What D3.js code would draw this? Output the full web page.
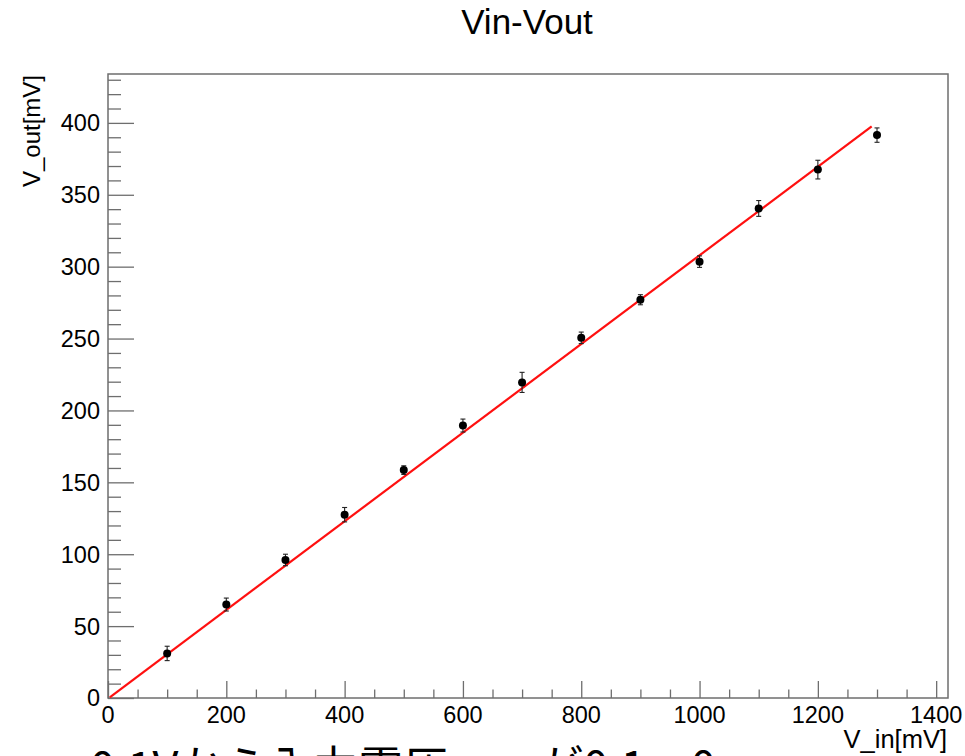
<!DOCTYPE html>
<html>
<head>
<meta charset="utf-8">
<script src="https://cdn.jsdelivr.net/npm/d3@7"></script>
<style>
  body { margin: 0; background: #fff; }
  svg { display: block; }
  text { font-family: "Liberation Sans", Arial, sans-serif; fill: #000; }
</style>
</head>
<body>
<div id="chart"></div>
<script>
// measured points (V_in, V_out, error)
const vin = [100, 200, 300, 400, 500, 600, 700, 800, 900, 1000, 1100, 1200, 1300];
const vout = [31, 65, 96, 127.5, 158.5, 189.5, 219.5, 250.5, 277, 303.5, 340.5, 367.5, 391.5];
const verr = [5, 4.5, 4, 5, 3, 4.5, 7, 4, 3.5, 4, 5.5, 6.5, 5];

// fitted line end points
const fitX = [3, 1291];
const fitY = [0.5, 397.6];

const xTicks = [0, 200, 400, 600, 800, 1000, 1200, 1400];
const yTicks = [0, 50, 100, 150, 200, 250, 300, 350, 400];

const width = 965, height = 756;
const frame = { left: 108, right: 948, top: 74, bottom: 698 };

const svg = d3.select('#chart').append('svg')
  .attr('width', width)
  .attr('height', height);

svg.append('rect').attr('width', width).attr('height', height).attr('fill', '#fff');

const x = d3.scaleLinear().domain([0, 1420]).range([frame.left, frame.right]);
const y = d3.scaleLinear().domain([0, 434]).range([frame.bottom, frame.top]);

// frame box
svg.append('rect')
  .attr('x', frame.left)
  .attr('y', frame.top)
  .attr('width', frame.right - frame.left)
  .attr('height', frame.bottom - frame.top)
  .attr('fill', 'none')
  .attr('stroke', '#6e6e6e')
  .attr('stroke-width', 1.5);

// minor ticks
const xMinor = d3.range(0, 1420, 50).filter(v => v % 200 !== 0);
const yMinor = d3.range(0, 434, 10).filter(v => v % 50 !== 0);

const xAxis = svg.append('g')
  .attr('transform', `translate(0,${frame.bottom})`);
xAxis.call(d3.axisTop(x).tickValues(xMinor).tickSize(8.5).tickFormat(''));
xAxis.call(g => g.select('.domain').remove());
const xMajor = svg.append('g').attr('transform', `translate(0,${frame.bottom})`)
  .call(d3.axisTop(x).tickValues(xTicks).tickSize(17).tickFormat(''));
xMajor.select('.domain').remove();

const yAxis = svg.append('g')
  .attr('transform', `translate(${frame.left},0)`);
yAxis.call(d3.axisRight(y).tickValues(yMinor).tickSize(13).tickFormat(''));
yAxis.call(g => g.select('.domain').remove());
const yMajor = svg.append('g').attr('transform', `translate(${frame.left},0)`)
  .call(d3.axisRight(y).tickValues(yTicks).tickSize(26).tickFormat(''));
yMajor.select('.domain').remove();

svg.selectAll('.tick line').attr('stroke', '#6e6e6e').attr('stroke-width', 1.3);

// tick labels
svg.append('g').selectAll('text')
  .data(xTicks)
  .enter()
  .append('text')
  .attr('x', d => x(d))
  .attr('y', 723)
  .attr('text-anchor', 'middle')
  .style('font-size', '23.5px')
  .text(d => d);

svg.append('g').selectAll('text')
  .data(yTicks)
  .enter()
  .append('text')
  .attr('x', 100)
  .attr('y', d => y(d))
  .attr('dy', '0.36em')
  .attr('text-anchor', 'end')
  .style('font-size', '23.5px')
  .text(d => d);

// titles
svg.append('text')
  .attr('x', 527)
  .attr('y', 34)
  .attr('text-anchor', 'middle')
  .style('font-size', '35px')
  .text('Vin-Vout');

svg.append('text')
  .attr('text-anchor', 'end')
  .attr('transform', 'translate(40,75) rotate(-90)')
  .style('font-size', '24px')
  .text('V_out[mV]');

svg.append('text')
  .attr('x', 947)
  .attr('y', 748)
  .attr('text-anchor', 'end')
  .style('font-size', '25.5px')
  .text('V_in[mV]');

// fit line
const fitData = fitX.map((v, i) => [v, fitY[i]]);
svg.append('path')
  .datum(fitData)
  .attr('fill', 'none')
  .attr('stroke', '#ff1010')
  .attr('stroke-width', 2.2)
  .attr('d', d3.line().x(d => x(d[0])).y(d => y(d[1])));

// error bars and markers
const pts = vin.map((v, i) => ({ x: v, y: vout[i], e: verr[i] }));
const bars = svg.append('g').attr('stroke', '#222').attr('stroke-width', 1.1);
pts.forEach(d => {
  bars.append('line')
    .attr('x1', x(d.x)).attr('x2', x(d.x))
    .attr('y1', y(d.y - d.e)).attr('y2', y(d.y + d.e));
  [d.y - d.e, d.y + d.e].forEach(v => {
    bars.append('line')
      .attr('x1', x(d.x) - 2.5).attr('x2', x(d.x) + 2.5)
      .attr('y1', y(v)).attr('y2', y(v));
  });
});

svg.append('g').selectAll('circle')
  .data(pts)
  .enter()
  .append('circle')
  .attr('cx', d => x(d.x))
  .attr('cy', d => y(d.y))
  .attr('r', 4)
  .attr('fill', '#000');

// cut-off caption at the bottom of the screenshot
svg.append('text')
  .attr('x', 90)
  .attr('y', 784)
  .style('font-family', '"Noto Sans CJK JP", sans-serif')
  .style('font-size', '45px')
  .text('0.1Vから入力電圧……が0.1～0.');
</script>
</body>
</html>
